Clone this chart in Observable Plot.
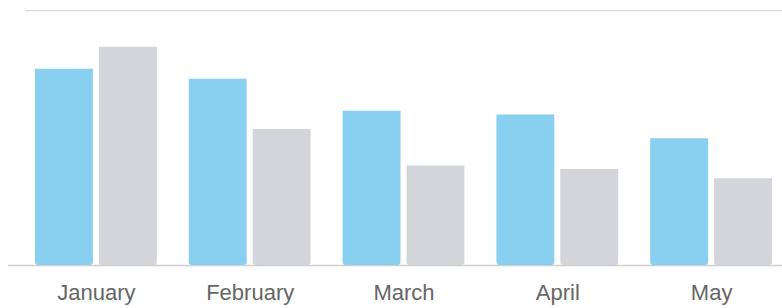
<!DOCTYPE html>
<html>
<head>
<meta charset="utf-8">
<script src="https://cdn.jsdelivr.net/npm/d3@7"></script>
<script src="https://cdn.jsdelivr.net/npm/@observablehq/plot@0.6"></script>
<style>
  html, body { margin: 0; padding: 0; background: #fff; }
  #chart { position: relative; width: 782px; height: 308px; }
  #chart svg { display: block; position: absolute; left: 0; top: 0; background: transparent; }
</style>
</head>
<body>
<div id="chart"></div>
<script>
const months = ["January", "February", "March", "April", "May"];
const series = ["A", "B"];
const valuesA = [77, 73, 60.5, 59, 49.7];
const valuesB = [85.6, 53.3, 39, 37.6, 34];
const gridTicks = [100];

const data = [];
months.forEach((m, i) => {
  data.push({month: m, series: series[0], value: valuesA[i]});
  data.push({month: m, series: series[1], value: valuesB[i]});
});

const common = {
  width: 782,
  height: 308,
  marginTop: 10,
  marginBottom: 43,
  marginLeft: 25,
  marginRight: 0,
  style: {fontFamily: "'Liberation Sans', Arial, sans-serif", fontSize: "22px", color: "#666", background: "transparent"},
  y: {domain: [0, 100], axis: null}
};

// Layer 1: grid line and baseline spanning the whole frame
const rules = Plot.plot({
  ...common,
  x: {axis: null},
  marks: [
    Plot.ruleY(gridTicks, {stroke: "#dcdcdc", strokeWidth: 1.5}),
    Plot.ruleY([0], {stroke: "#cfcfcf", strokeWidth: 1.5, insetLeft: -17})
  ]
});

// Layer 2: grouped bars, faceted by month
const bars = Plot.plot({
  ...common,
  x: {domain: series, axis: null, paddingInner: 0.094, paddingOuter: 0, round: false},
  fx: {domain: months, paddingInner: 0.208, paddingOuter: 0.065, round: false, axis: "bottom", tickSize: 0, tickPadding: 19, label: null},
  color: {domain: series, range: ["#89cff0", "#d3d5da"]},
  marks: [
    Plot.barY(data, {fx: "month", x: "series", y: "value", fill: "series", ry2: 3})
  ]
});

const host = document.getElementById("chart");
host.appendChild(rules);
host.appendChild(bars);
</script>
</body>
</html>
